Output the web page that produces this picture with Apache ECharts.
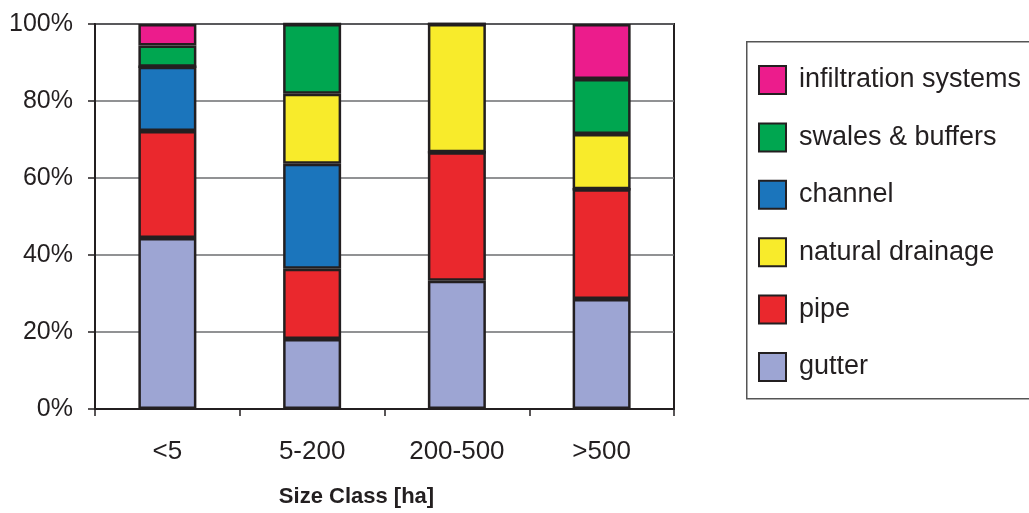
<!DOCTYPE html>
<html>
<head>
<meta charset="utf-8">
<script src="https://cdn.jsdelivr.net/npm/echarts@6/dist/echarts.min.js"></script>
<style>html,body{margin:0;padding:0;background:#fff}#c{width:1029px;height:513px}</style>
</head>
<body>
<div id="c"></div>
<script>
const categories = ['<5', '5-200', '200-500', '>500'];
const gutter = [44.4, 18.2, 33.3, 28.6];
const pipe = [27.8, 18.2, 33.4, 28.5];
const channel = [16.7, 27.3, 0, 0];
const naturalDrainage = [0, 18.2, 33.3, 14.3];
const swalesBuffers = [5.5, 18.1, 0, 14.3];
const infiltration = [5.6, 0, 0, 14.3];
const seriesNames = ['gutter', 'pipe', 'channel', 'natural drainage', 'swales & buffers', 'infiltration systems'];
const legendOrder = ['infiltration systems', 'swales & buffers', 'channel', 'natural drainage', 'pipe', 'gutter'];
const yTicks = [0, 20, 40, 60, 80, 100];

const colors = ['#9DA5D3', '#EA282D', '#1B75BC', '#F8EB2B', '#00A650', '#EC1C8C'];
const allData = [gutter, pipe, channel, naturalDrainage, swalesBuffers, infiltration];

const chart = echarts.init(document.getElementById('c'));
const font = 'Liberation Sans, Arial, Helvetica, sans-serif';
chart.setOption({
  animation: false,
  backgroundColor: '#fff',
  graphic: [{
    type: 'rect', left: 746, top: 41, shape: { width: 320, height: 357 },
    style: { fill: '#fff', stroke: '#555', lineWidth: 1.5 }, z: -1
  }],
  grid: { left: 95, right: 355, top: 24, bottom: 103, show: true, borderColor: '#231f20', borderWidth: 2, backgroundColor: 'transparent' },
  legend: {
    orient: 'vertical', left: 753, top: 60,
    data: legendOrder,
    itemWidth: 27, itemHeight: 28, itemGap: 27.4,
    icon: 'rect',
    itemStyle: { borderColor: '#231f20', borderWidth: 2 },
    textStyle: { fontFamily: font, fontSize: 27, color: '#231f20', lineHeight: 28, padding: [0, 0, 0, 8] }
  },
  xAxis: {
    type: 'category', data: categories,
    axisLine: { lineStyle: { color: '#231f20', width: 2 } },
    axisTick: { show: true, length: 7, lineStyle: { color: '#231f20', width: 1.5 } },
    axisLabel: { fontFamily: font, fontSize: 26, color: '#231f20', margin: 30 },
    name: 'Size Class [ha]', nameLocation: 'middle', nameGap: 77,
    nameTextStyle: { fontFamily: font, fontWeight: 'bold', fontSize: 22, color: '#231f20', padding: [0, 56, 0, 0] }
  },
  yAxis: {
    type: 'value', min: 0, max: 100, interval: 20,
    axisLine: { show: true, lineStyle: { color: '#231f20', width: 2 } },
    axisTick: { show: true, length: 7, lineStyle: { color: '#231f20', width: 1.5 } },
    axisLabel: { fontFamily: font, fontSize: 25, color: '#231f20', margin: 22,
      formatter: v => yTicks.includes(v) ? v + '%' : '' },
    splitLine: { show: true, lineStyle: { color: '#6d6e71', width: 1.5 } }
  },
  series: seriesNames.map((n, i) => ({
    name: n, type: 'bar', stack: 'total', barWidth: 58,
    data: allData[i],
    itemStyle: { color: colors[i], borderColor: '#231f20', borderWidth: 2.5 }
  }))
});
</script>
</body>
</html>
